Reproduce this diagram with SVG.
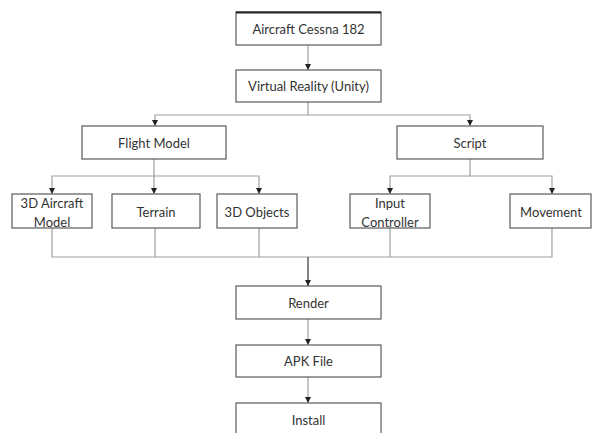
<svg xmlns="http://www.w3.org/2000/svg" width="592" height="433" viewBox="0 0 592 433">
<style>
.box{fill:#fff;stroke:#5a5a5a;stroke-width:1.2}
.t{font-family:Lato,"Open Sans","Liberation Sans",sans-serif;font-size:13px;fill:#333;text-anchor:middle;dominant-baseline:central}
.c{fill:none;stroke:#a0a0a0;stroke-width:1.2}
.d{fill:none;stroke:#333;stroke-width:1.2}
</style>
<defs>
<marker id="a" viewBox="0 0 8 8" refX="8" refY="4" markerWidth="6" markerHeight="6" orient="auto" markerUnits="userSpaceOnUse">
<path d="M0,0 L8,4 L0,8 Z" fill="#222"/>
</marker>
</defs>
<rect width="592" height="433" fill="#fff"/>
<g id="connectors">
<path class="c" d="M308,45 V70" marker-end="url(#a)"/>
<path class="c" d="M308,102 V115 H155 V126" marker-end="url(#a)"/>
<path class="c" d="M308,115 H470 V126" marker-end="url(#a)"/>
<path class="c" d="M154,159 V176 H52 V194" marker-end="url(#a)"/>
<path class="c" d="M154,176 V194" marker-end="url(#a)"/>
<path class="c" d="M154,176 H259 V194" marker-end="url(#a)"/>
<path class="c" d="M470,159 V176 H390 V194" marker-end="url(#a)"/>
<path class="c" d="M470,176 H552 V194" marker-end="url(#a)"/>
<path class="c" d="M52,228 V257 H552 V228"/>
<path class="c" d="M155,228 V257 M259,228 V257 M390,228 V257"/>
<path class="d" d="M308,257 V286" marker-end="url(#a)"/>
<path class="c" d="M308,319 V345" marker-end="url(#a)"/>
<path class="c" d="M308,377 V403" marker-end="url(#a)"/>
</g>
<g id="aircraft"><rect class="box" x="236" y="12" width="145" height="33"/><path d="M236,12.5 H381" stroke="#222" stroke-width="2"/><text class="t" x="308.5" y="29">Aircraft Cessna 182</text></g>
<g id="vr"><rect class="box" x="236" y="70" width="145" height="32"/><text class="t" x="308.5" y="86">Virtual Reality (Unity)</text></g>
<g id="flight"><rect class="box" x="82" y="126" width="144" height="33"/><text class="t" x="154" y="143">Flight Model</text></g>
<g id="script"><rect class="box" x="397" y="126" width="146" height="33"/><text class="t" x="470" y="143">Script</text></g>
<g id="aircraftmodel"><rect class="box" x="12" y="194" width="80" height="34"/><text class="t" x="52" y="203">3D Aircraft</text><text class="t" x="52" y="222">Model</text></g>
<g id="terrain"><rect class="box" x="112" y="194" width="88" height="34"/><text class="t" x="156" y="212">Terrain</text></g>
<g id="objects"><rect class="box" x="217" y="194" width="80" height="34"/><text class="t" x="257" y="212">3D Objects</text></g>
<g id="input"><rect class="box" x="350" y="194" width="80" height="34"/><text class="t" x="390" y="203">Input</text><text class="t" x="390" y="222">Controller</text></g>
<g id="movement"><rect class="box" x="510" y="194" width="81" height="34"/><text class="t" x="551" y="212">Movement</text></g>
<g id="render"><rect class="box" x="236" y="286" width="145" height="33"/><text class="t" x="308.5" y="303">Render</text></g>
<g id="apk"><rect class="box" x="236" y="345" width="145" height="32"/><text class="t" x="308.5" y="361">APK File</text></g>
<g id="install"><rect class="box" x="236" y="403" width="145" height="40"/><text class="t" x="308.5" y="420">Install</text></g>
</svg>
